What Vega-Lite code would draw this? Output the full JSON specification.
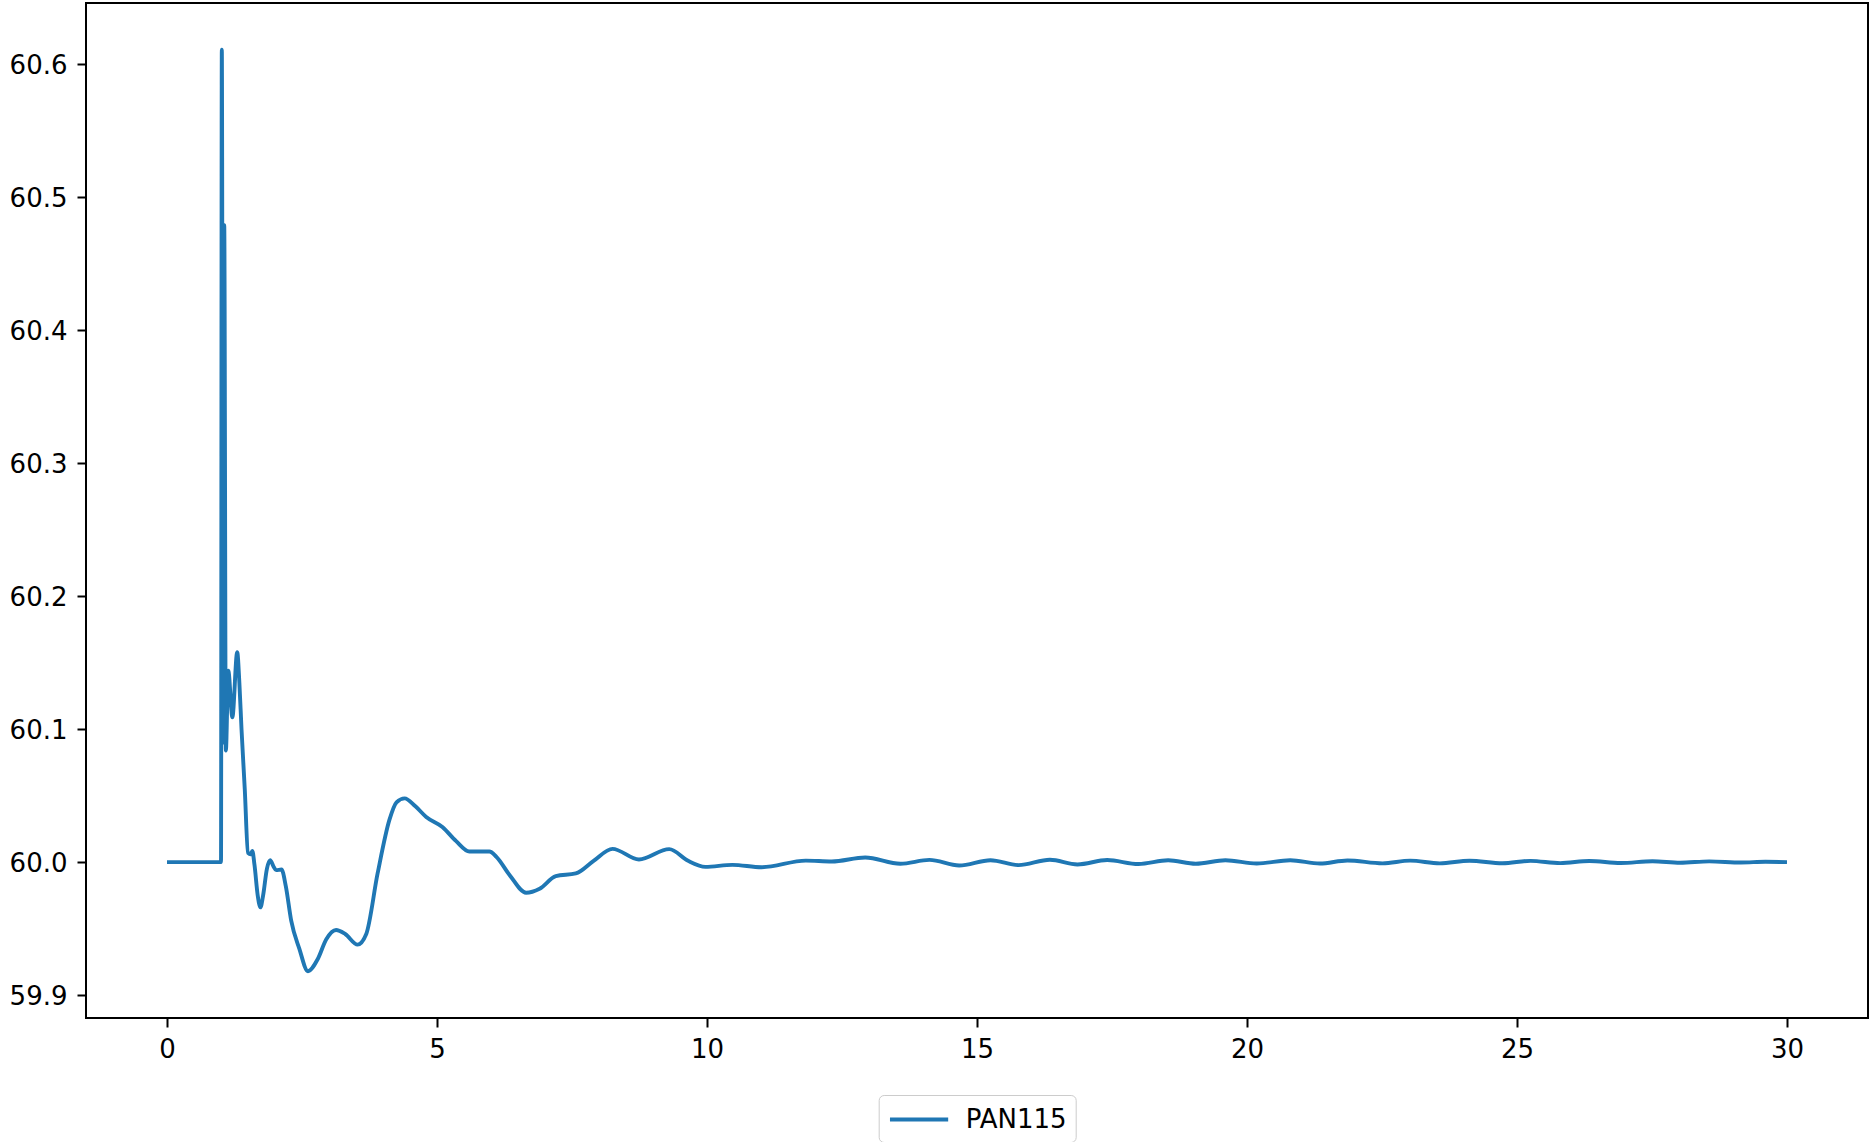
{
  "$schema": "https://vega.github.io/schema/vega-lite/v6.json",
  "autosize": {"type": "none"},
  "width": 1782,
  "height": 1015,
  "padding": {"left": 86, "top": 3, "right": 4, "bottom": 124},
  "background": "white",
  "config": {
    "view": {"stroke": "black", "strokeWidth": 2},
    "font": "DejaVu Sans",
    "axis": {
      "domain": false,
      "grid": false,
      "ticks": true,
      "tickColor": "black",
      "tickWidth": 2,
      "tickSize": 9,
      "labelFont": "DejaVu Sans",
      "labelFontSize": 26,
      "labelColor": "black",
      "title": null
    }
  },
  "data": {
    "values": [
      {"t": 0, "v": 60.0, "series": "PAN115"},
      {"t": 1.0, "v": 60.0, "series": "PAN115"},
      {"t": 1.015, "v": 60.611, "series": "PAN115"},
      {"t": 1.04, "v": 60.09, "series": "PAN115"},
      {"t": 1.06, "v": 60.479, "series": "PAN115"},
      {"t": 1.09, "v": 60.084, "series": "PAN115"},
      {"t": 1.135, "v": 60.144, "series": "PAN115"},
      {"t": 1.21, "v": 60.109, "series": "PAN115"},
      {"t": 1.3, "v": 60.158, "series": "PAN115"},
      {"t": 1.34, "v": 60.135, "series": "PAN115"},
      {"t": 1.38, "v": 60.1, "series": "PAN115"},
      {"t": 1.44, "v": 60.055, "series": "PAN115"},
      {"t": 1.5, "v": 60.007, "series": "PAN115"},
      {"t": 1.55, "v": 60.006, "series": "PAN115"},
      {"t": 1.58, "v": 60.0085, "series": "PAN115"},
      {"t": 1.62, "v": 59.998, "series": "PAN115"},
      {"t": 1.68, "v": 59.975, "series": "PAN115"},
      {"t": 1.73, "v": 59.966, "series": "PAN115"},
      {"t": 1.78, "v": 59.975, "series": "PAN115"},
      {"t": 1.85, "v": 59.995, "series": "PAN115"},
      {"t": 1.91, "v": 60.0015, "series": "PAN115"},
      {"t": 1.97, "v": 59.997, "series": "PAN115"},
      {"t": 2.02, "v": 59.994, "series": "PAN115"},
      {"t": 2.12, "v": 59.9945, "series": "PAN115"},
      {"t": 2.2, "v": 59.982, "series": "PAN115"},
      {"t": 2.3, "v": 59.956, "series": "PAN115"},
      {"t": 2.45, "v": 59.935, "series": "PAN115"},
      {"t": 2.61, "v": 59.918, "series": "PAN115"},
      {"t": 2.79, "v": 59.927, "series": "PAN115"},
      {"t": 2.95, "v": 59.942, "series": "PAN115"},
      {"t": 3.13, "v": 59.949, "series": "PAN115"},
      {"t": 3.3, "v": 59.946, "series": "PAN115"},
      {"t": 3.53, "v": 59.938, "series": "PAN115"},
      {"t": 3.69, "v": 59.946, "series": "PAN115"},
      {"t": 3.9, "v": 59.9915, "series": "PAN115"},
      {"t": 4.12, "v": 60.032, "series": "PAN115"},
      {"t": 4.25, "v": 60.045, "series": "PAN115"},
      {"t": 4.4, "v": 60.048, "series": "PAN115"},
      {"t": 4.6, "v": 60.042, "series": "PAN115"},
      {"t": 4.8, "v": 60.034, "series": "PAN115"},
      {"t": 5.1, "v": 60.0265, "series": "PAN115"},
      {"t": 5.35, "v": 60.016, "series": "PAN115"},
      {"t": 5.6, "v": 60.008, "series": "PAN115"},
      {"t": 5.97, "v": 60.008, "series": "PAN115"},
      {"t": 6.1, "v": 60.004, "series": "PAN115"},
      {"t": 6.35, "v": 59.99, "series": "PAN115"},
      {"t": 6.65, "v": 59.977, "series": "PAN115"},
      {"t": 6.9, "v": 59.98, "series": "PAN115"},
      {"t": 7.2, "v": 59.9895, "series": "PAN115"},
      {"t": 7.57, "v": 59.9915, "series": "PAN115"},
      {"t": 7.9, "v": 60.001, "series": "PAN115"},
      {"t": 8.25, "v": 60.01, "series": "PAN115"},
      {"t": 8.74, "v": 60.002, "series": "PAN115"},
      {"t": 9.3, "v": 60.0098, "series": "PAN115"},
      {"t": 9.65, "v": 60.001, "series": "PAN115"},
      {"t": 9.97, "v": 59.9965, "series": "PAN115"},
      {"t": 10.47, "v": 59.998, "series": "PAN115"},
      {"t": 11.01, "v": 59.9962, "series": "PAN115"},
      {"t": 11.83, "v": 60.0012, "series": "PAN115"},
      {"t": 12.31, "v": 60.0005, "series": "PAN115"},
      {"t": 12.93, "v": 60.0035, "series": "PAN115"},
      {"t": 13.58, "v": 59.9988, "series": "PAN115"},
      {"t": 14.12, "v": 60.0017, "series": "PAN115"},
      {"t": 14.67, "v": 59.9975, "series": "PAN115"},
      {"t": 15.25, "v": 60.0015, "series": "PAN115"},
      {"t": 15.77, "v": 59.9978, "series": "PAN115"},
      {"t": 16.35, "v": 60.0018, "series": "PAN115"},
      {"t": 16.86, "v": 59.9983, "series": "PAN115"},
      {"t": 17.41, "v": 60.0016, "series": "PAN115"},
      {"t": 17.99, "v": 59.9986, "series": "PAN115"},
      {"t": 18.54, "v": 60.0014, "series": "PAN115"},
      {"t": 19.05, "v": 59.9988, "series": "PAN115"},
      {"t": 19.6, "v": 60.0014, "series": "PAN115"},
      {"t": 20.18, "v": 59.999, "series": "PAN115"},
      {"t": 20.8, "v": 60.0014, "series": "PAN115"},
      {"t": 21.35, "v": 59.999, "series": "PAN115"},
      {"t": 21.86, "v": 60.0013, "series": "PAN115"},
      {"t": 22.51, "v": 59.9991, "series": "PAN115"},
      {"t": 23.02, "v": 60.0012, "series": "PAN115"},
      {"t": 23.57, "v": 59.9991, "series": "PAN115"},
      {"t": 24.12, "v": 60.0011, "series": "PAN115"},
      {"t": 24.73, "v": 59.9992, "series": "PAN115"},
      {"t": 25.25, "v": 60.001, "series": "PAN115"},
      {"t": 25.8, "v": 59.9993, "series": "PAN115"},
      {"t": 26.34, "v": 60.0009, "series": "PAN115"},
      {"t": 26.92, "v": 59.9994, "series": "PAN115"},
      {"t": 27.51, "v": 60.0007, "series": "PAN115"},
      {"t": 28.02, "v": 59.9996, "series": "PAN115"},
      {"t": 28.56, "v": 60.0006, "series": "PAN115"},
      {"t": 29.15, "v": 59.9997, "series": "PAN115"},
      {"t": 29.6, "v": 60.0003, "series": "PAN115"},
      {"t": 30.0, "v": 60.0, "series": "PAN115"}
    ]
  },
  "mark": {"type": "line", "strokeWidth": 3.9, "interpolate": "monotone", "clip": true},
  "encoding": {
    "x": {
      "field": "t",
      "type": "quantitative",
      "scale": {"domain": [-1.5, 31.5], "nice": false, "zero": false},
      "axis": {"values": [0, 5, 10, 15, 20, 25, 30], "format": "d", "labelPadding": 9}
    },
    "y": {
      "field": "v",
      "type": "quantitative",
      "scale": {"domain": [59.8828, 60.6462], "nice": false, "zero": false},
      "axis": {"values": [59.9, 60.0, 60.1, 60.2, 60.3, 60.4, 60.5, 60.6], "format": ".1f", "labelPadding": 10, "labelOffset": 1.5}
    },
    "color": {
      "field": "series",
      "type": "nominal",
      "scale": {"range": ["#1f77b4"]},
      "legend": {
        "title": null,
        "orient": "none",
        "legendX": 792.7,
        "legendY": 1092,
        "padding": 9,
        "strokeColor": "#cccccc",
        "fillColor": "white",
        "cornerRadius": 5,
        "symbolType": "M-1,0H3.4",
        "symbolSize": 700,
        "symbolStrokeWidth": 3.9,
        "symbolOpacity": 1,
        "symbolFillColor": "transparent",
        "labelFont": "DejaVu Sans",
        "labelFontSize": 26,
        "labelColor": "black",
        "labelOffset": 47
      }
    }
  }
}
